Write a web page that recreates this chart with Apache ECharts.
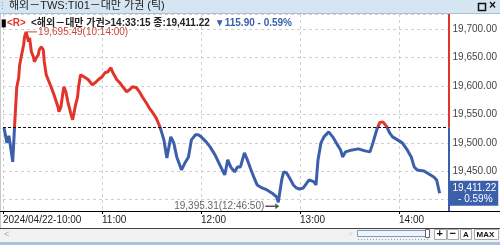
<!DOCTYPE html>
<html><head><meta charset="utf-8">
<script src="https://cdn.jsdelivr.net/npm/echarts@6/dist/echarts.min.js"></script>
<style>html,body{margin:0;padding:0;background:#fff}#c{width:500px;height:245px}</style>
</head><body><div id="c"></div>
<script>
// ---- data ----
const chartTitle = '해외－TWS:TI01－대만 가권 (틱)';
const instrumentName = '해외－대만 가권';
const lastTime = '14:33:15';
const xTickLabels = ['2024/04/22-10:00', '11:00', '12:00', '13:00', '14:00'];
const prevClose = 19527.12;
// minutes after 10:00
const tickMinutes = [0.6,2.4,3.6,5.9,7.0,8.3,9.5,10.1,11.3,12.5,
  13.1,14.0,15.5,16.1,17.2,18.4,19.0,20.2,21.4,22.0,
  23.2,24.4,25.0,26.2,27.4,29.1,30.9,33.3,33.9,35.1,
  36.3,36.9,38.1,39.3,41.0,42.2,42.8,44.0,45.2,45.8,
  47.0,48.2,50.0,51.7,54.1,55.9,57.7,60.1,61.8,63.6,
  65.4,66.6,69.0,70.8,72.6,74.9,76.7,78.5,80.9,82.7,
  84.4,86.8,88.6,90.4,92.8,94.6,95.7,97.5,99.3,101.7,
  103.5,105.3,108.2,110.6,112.4,114.2,116.6,118.3,120.1,123.1,
  125.5,128.5,131.4,134.4,136.2,138.0,140.4,142.1,143.9,146.3,
  148.1,149.9,152.2,154.0,157.0,160.0,162.9,165.9,166.8333,168.9,
  170.1,171.9,173.7,176.0,177.8,179.6,182.0,185.5,188.5,189.7,
  190.9,192.7,194.5,197.4,199.8,201.6,204.6,205.8,207.5,211.7,
  215.3,219.4,222.4,224.2,226.6,228.4,230.2,232.5,234.3,236.1,
  239.1,242.0,245.0,247.4,249.2,251.0,255.1,258.1,261.1,262.8,
  264.6];
const tickValues = [19526.5,19500.0,19512.4,19466.5,19528.2,19597.1,19614.7,19637.6,19655.3,19672.9,
  19687.1,19695.49,19678.2,19685.3,19660.6,19651.8,19642.9,19650.0,19655.3,19664.1,
  19669.4,19664.1,19642.9,19620.0,19611.2,19598.8,19584.7,19563.5,19554.7,19563.5,
  19588.2,19598.8,19590.0,19572.4,19552.9,19540.6,19549.4,19567.1,19581.2,19598.8,
  19620.0,19616.5,19614.7,19611.2,19602.4,19605.9,19611.2,19616.5,19623.5,19625.3,
  19632.4,19623.5,19611.2,19605.9,19598.8,19590.0,19593.5,19598.8,19597.1,19590.0,
  19581.2,19570.6,19561.8,19554.7,19544.1,19531.8,19522.9,19505.3,19473.5,19510.6,
  19500.0,19475.3,19452.4,19466.5,19475.3,19505.3,19514.1,19514.1,19510.6,19501.8,
  19492.9,19478.8,19461.2,19443.5,19470.0,19457.6,19448.8,19457.6,19457.6,19482.4,
  19470.0,19455.9,19438.2,19425.9,19420.6,19417.1,19411.8,19404.7,19395.31,19434.7,
  19448.8,19447.1,19438.2,19425.9,19420.6,19418.8,19420.6,19434.7,19431.2,19425.9,
  19470.0,19500.0,19510.6,19519.4,19510.6,19501.8,19487.6,19475.3,19484.1,19487.6,
  19489.4,19485.9,19484.1,19500.0,19524.0,19536.0,19537.0,19529.0,19517.6,19510.6,
  19505.3,19500.0,19487.6,19475.3,19457.6,19452.4,19450.6,19445.3,19440.0,19434.7,
  19411.22];

// ---- derived ----
const X_MAX = 270, Y_MIN = 19380, Y_MAX = 19727;
const RED = '#e2352a', BLUE = '#3b5fab';
const FONT = '"Liberation Sans", "Noto Sans CJK KR", sans-serif';
const fmt = v => v.toLocaleString('en-US', {minimumFractionDigits: 2, maximumFractionDigits: 2});
const toTime = m => {
  const tot = Math.round(m * 60);
  const h = 10 + Math.floor(tot / 3600), mm = Math.floor((tot % 3600) / 60), ss = tot % 60;
  const p = n => String(n).padStart(2, '0');
  return p(h) + ':' + p(mm) + ':' + p(ss);
};
const timeOf = v => toTime(tickMinutes[tickValues.indexOf(v)]);
const last = tickValues[tickValues.length - 1];
const change = last - prevClose;
const pct = (Math.abs(change) / prevClose * 100).toFixed(2);
const seriesData = tickMinutes.map((m, i) => [m, tickValues[i]]);

const chart = echarts.init(document.getElementById('c'), null, {renderer: 'canvas'});
chart.setOption({
  animation: false,
  backgroundColor: '#fff',
  textStyle: {fontFamily: FONT},
  title: {
    left: 1, top: 14, padding: 0,
    text: '{bar|▮}{r|<R>} {t|<' + instrumentName + '>' + lastTime + ' 종:' + fmt(last) + '} {b|▼' + fmt(Math.abs(change)) + ' - ' + pct + '%}',
    textStyle: {
      rich: {
        bar: {color: '#000', fontSize: 10, fontFamily: FONT},
        r: {color: RED, fontSize: 10, fontFamily: FONT},
        t: {color: '#222', fontSize: 10, fontFamily: FONT},
        b: {color: BLUE, fontSize: 10, fontFamily: FONT}
      }
    }
  },
  grid: {left: 1, right: 45, top: 14, bottom: 34},
  xAxis: {
    type: 'value', min: 0, max: X_MAX, interval: 60,
    axisLine: {show: true, lineStyle: {color: '#000', width: 1}},
    axisTick: {show: true, length: 3, lineStyle: {color: '#000'}},
    axisLabel: {
      showMaxLabel: false, align: 'left', margin: 4, color: '#222', fontSize: 10, fontFamily: FONT,
      formatter: v => (v % 60 === 0 && xTickLabels[v / 60]) ? xTickLabels[v / 60] : ''
    },
    splitLine: {show: true, lineStyle: {type: [3, 3], color: '#d0d0d0'}}
  },
  yAxis: {
    type: 'value', position: 'right', min: Y_MIN, max: Y_MAX, splitNumber: 7,
    axisLine: {show: false}, axisTick: {show: false},
    axisLabel: {
      showMinLabel: false, showMaxLabel: false, margin: 4, color: '#444', fontSize: 10, fontFamily: FONT,
      padding: [4, 0, 0, 0],
      formatter: v => Math.abs(v - last) < 20 ? '' : fmt(v)
    },
    splitLine: {show: true, lineStyle: {type: [3, 3], color: '#d0d0d0'}}
  },
  visualMap: {
    type: 'piecewise', show: false, seriesIndex: 0, dimension: 1,
    pieces: [{gt: prevClose, lte: Y_MAX + 1000, color: RED}, {gt: Y_MIN - 1000, lte: prevClose, color: BLUE}],
    outOfRange: {color: BLUE}
  },
  series: [{
    type: 'line', data: seriesData, showSymbol: false, symbol: 'none',
    lineStyle: {width: 3}, z: 3,
    markLine: {
      silent: true, symbol: 'none', animation: false,
      data: [
        {yAxis: prevClose, lineStyle: {type: [3, 2], color: '#111', width: 1}, label: {show: false}},
        [{coord: [X_MAX, Y_MAX], lineStyle: {color: RED, width: 2, type: 'solid'}, label: {show: false}}, {coord: [X_MAX, prevClose]}],
        [{coord: [X_MAX, prevClose], lineStyle: {color: BLUE, width: 2, type: 'solid'}, label: {show: false}}, {coord: [X_MAX, Y_MIN]}],
        {yAxis: last, lineStyle: {color: 'rgba(0,0,0,0)', width: 1, type: 'solid'},
          label: {show: true, position: 'end', distance: 1, backgroundColor: BLUE, color: '#fff',
            fontSize: 10, lineHeight: 11, padding: [2, 2, 1, 3], align: 'left', fontFamily: FONT,
            formatter: fmt(last) + '\n  - ' + pct + '%'}}
      ]
    },
    markPoint: {
      silent: true, animation: false,
      data: [
        {type: 'max', symbol: 'path://M0,0H10V1H0Z', symbolSize: [10, 1], symbolOffset: [6, 0],
          itemStyle: {color: '#c9463d'},
          label: {show: true, position: 'right', distance: 1, color: '#c9463d', fontSize: 10, fontFamily: FONT,
            formatter: p => fmt(p.value) + '(' + timeOf(p.value) + ')'}},
        {type: 'min', symbol: 'path://M0,3.5H10V4.5H0Z M10,2L14,4L10,6Z', symbolSize: [14, 6], symbolOffset: [-6, 4],
          itemStyle: {color: '#555'},
          label: {show: true, position: 'left', distance: 1, color: '#666', fontSize: 10, fontFamily: FONT,
            formatter: p => fmt(p.value) + '(' + timeOf(p.value) + ')'}}
      ]
    }
  }],
  graphic: [
    {type: 'rect', shape: {x: 0, y: 0, width: 500, height: 13}, style: {fill: '#d6e5f2'}, z: 100},
    {type: 'line', shape: {x1: 0, y1: 13.5, x2: 500, y2: 13.5}, style: {stroke: '#a9bfd6', lineWidth: 1}, z: 100},
    {type: 'text', x: 1, y: 1, style: {text: '⁝', fill: '#8aa0b8', font: '10px ' + FONT}, z: 101},
    {type: 'text', x: 9, y: 0.5, style: {text: chartTitle, fill: '#222', font: '11px ' + FONT}, z: 101},
    {type: 'rect', shape: {x: 478.5, y: 3.5, width: 7, height: 7}, style: {fill: 'none', stroke: '#111', lineWidth: 1.5}, z: 101},
    {type: 'text', x: 489, y: -0.5, style: {text: '×', fill: '#111', font: 'bold 12px ' + FONT}, z: 101},
    {type: 'line', shape: {x1: 0.5, y1: 14, x2: 0.5, y2: 228}, style: {stroke: '#c8c8c8', lineWidth: 1}, z: 100},
    {type: 'line', shape: {x1: 0, y1: 211.5, x2: 500, y2: 211.5}, style: {stroke: '#000', lineWidth: 1}, z: 100},
    {type: 'rect', shape: {x: 0, y: 228, width: 500, height: 14}, style: {fill: '#f2f2f2'}, z: 100},
    {type: 'line', shape: {x1: 0, y1: 228.5, x2: 500, y2: 228.5}, style: {stroke: '#444', lineWidth: 1}, z: 101},
    {type: 'text', x: 4, y: 230, style: {text: '<', fill: '#aaa', font: '9px ' + FONT}, z: 101},
    {type: 'text', x: 348, y: 230, style: {text: '>', fill: '#ccc', font: '8px ' + FONT}, z: 101},
    {type: 'rect', shape: {x: 357.5, y: 230.5, width: 72, height: 6}, style: {fill: '#eef3fb', stroke: '#7f9db9', lineWidth: 1}, z: 101},
    {type: 'rect', shape: {x: 425.5, y: 229.5, width: 4, height: 8}, style: {fill: '#fff', stroke: '#666', lineWidth: 1}, z: 102},
    {type: 'line', shape: {x1: 358, y1: 239.5, x2: 430, y2: 239.5}, style: {stroke: '#8aa', lineWidth: 1, lineDash: [1, 2]}, z: 101},
    {type: 'rect', shape: {x: 434.5, y: 229.5, width: 12, height: 10}, style: {fill: '#fff', stroke: '#aaa', lineWidth: 1}, z: 101},
    {type: 'text', x: 436.5, y: 228.5, style: {text: '+', fill: '#111', font: 'bold 11px ' + FONT}, z: 102},
    {type: 'rect', shape: {x: 447.5, y: 229.5, width: 11, height: 10}, style: {fill: '#fff', stroke: '#aaa', lineWidth: 1}, z: 101},
    {type: 'text', x: 449.5, y: 228.5, style: {text: '−', fill: '#111', font: 'bold 11px ' + FONT}, z: 102},
    {type: 'rect', shape: {x: 460.5, y: 229.5, width: 11, height: 10}, style: {fill: '#fff', stroke: '#aaa', lineWidth: 1}, z: 101},
    {type: 'text', x: 463, y: 230.5, style: {text: 'A', fill: '#111', font: 'bold 8px ' + FONT}, z: 102},
    {type: 'rect', shape: {x: 474.5, y: 229.5, width: 24, height: 10}, style: {fill: '#fff', stroke: '#aaa', lineWidth: 1}, z: 101},
    {type: 'text', x: 476.5, y: 230.5, style: {text: 'MAX', fill: '#111', font: 'bold 8px ' + FONT}, z: 102},
    {type: 'rect', shape: {x: 0, y: 242, width: 500, height: 3}, style: {fill: '#aac2dd'}, z: 100}
  ]
});
</script>
</body></html>
